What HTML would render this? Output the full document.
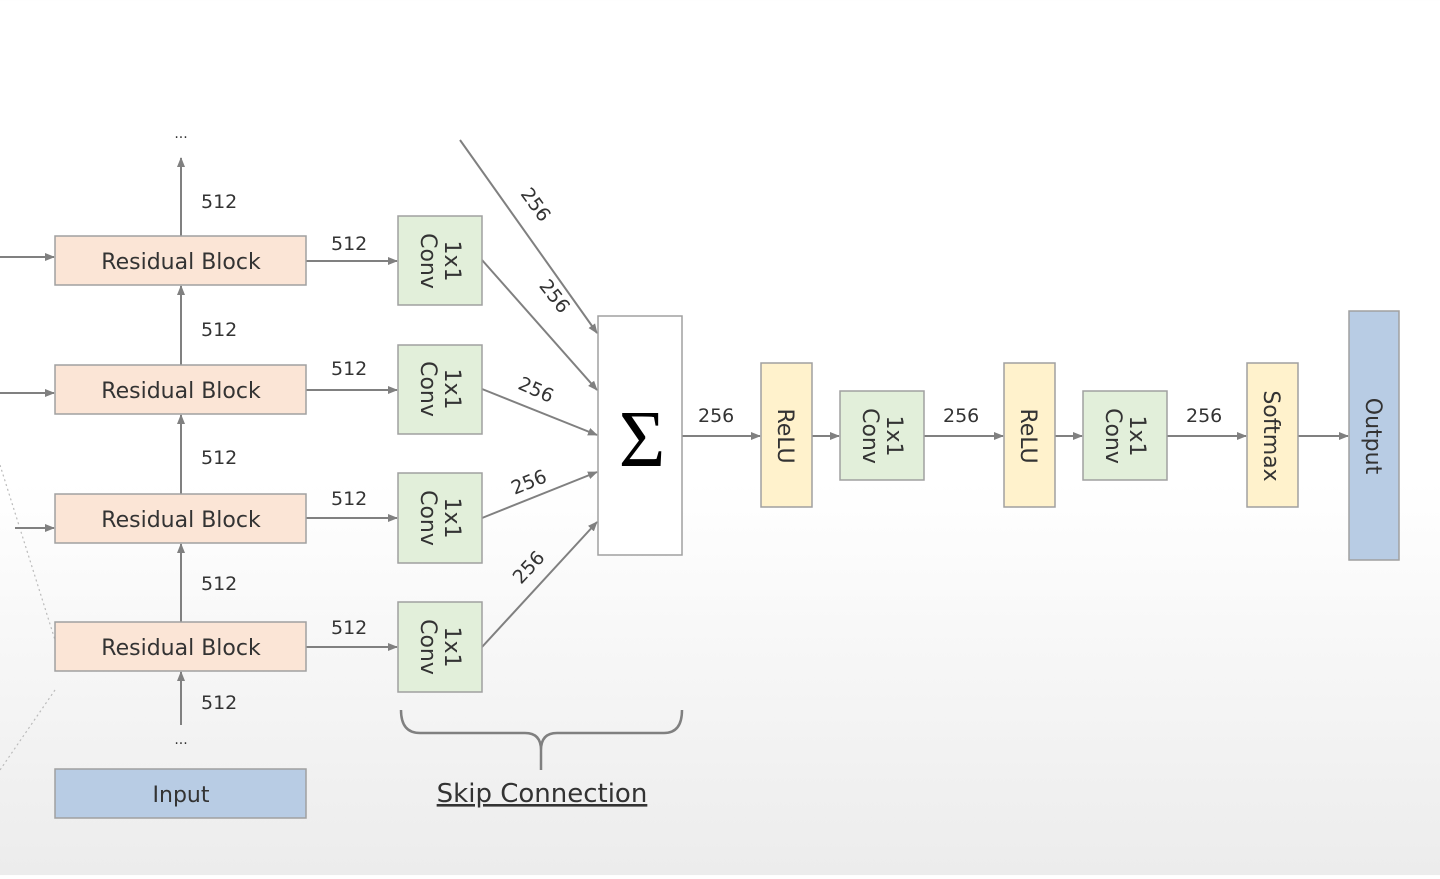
<!DOCTYPE html>
<html><head><style>
html,body{margin:0;padding:0}
body{width:1440px;height:875px;background:linear-gradient(to bottom,#ffffff 0%,#ffffff 55%,#ececec 100%);font-family:"DejaVu Sans","Liberation Sans",sans-serif;overflow:hidden}
svg text{font-family:"DejaVu Sans","Liberation Sans",sans-serif;fill:#333}
</style></head><body>
<svg width="1440" height="875" viewBox="0 0 1440 875" xmlns="http://www.w3.org/2000/svg">
<defs>
<marker id="a" markerWidth="10" markerHeight="10" refX="9" refY="5" orient="auto" markerUnits="userSpaceOnUse"><path d="M0,1 L10,5 L0,9 z" fill="#808080"/></marker>
</defs>
<g stroke="#bbb" stroke-width="1.2" stroke-dasharray="2,3" fill="none">
<line x1="0" y1="465" x2="55" y2="640"/>
<line x1="55" y1="690" x2="0" y2="770"/>
</g>
<g stroke="#808080" stroke-width="2" fill="none" marker-end="url(#a)">
<line x1="0" y1="257" x2="54" y2="257"/>
<line x1="0" y1="393" x2="54" y2="393"/>
<line x1="15" y1="528" x2="54" y2="528"/>
<line x1="181" y1="236" x2="181" y2="158"/>
<line x1="181" y1="365" x2="181" y2="286"/>
<line x1="181" y1="494" x2="181" y2="415"/>
<line x1="181" y1="622" x2="181" y2="544"/>
<line x1="181" y1="725" x2="181" y2="672"/>
<line x1="306" y1="261" x2="397" y2="261"/>
<line x1="306" y1="390" x2="397" y2="390"/>
<line x1="306" y1="518" x2="397" y2="518"/>
<line x1="306" y1="647" x2="397" y2="647"/>
<line x1="460" y1="140" x2="597" y2="333"/>
<line x1="482" y1="260" x2="597" y2="390"/>
<line x1="482" y1="389" x2="597" y2="435"/>
<line x1="482" y1="518" x2="597" y2="472"/>
<line x1="482" y1="647" x2="597" y2="522"/>
<line x1="682" y1="436" x2="760" y2="436"/>
<line x1="812" y1="436" x2="839" y2="436"/>
<line x1="924" y1="436" x2="1003" y2="436"/>
<line x1="1055" y1="436" x2="1082" y2="436"/>
<line x1="1167" y1="436" x2="1246" y2="436"/>
<line x1="1298" y1="436" x2="1348" y2="436"/>
</g>
<g stroke="#a0a0a0" stroke-width="1.5">
<rect x="55" y="236" width="251" height="49" fill="#fbe5d6"/>
<rect x="55" y="365" width="251" height="49" fill="#fbe5d6"/>
<rect x="55" y="494" width="251" height="49" fill="#fbe5d6"/>
<rect x="55" y="622" width="251" height="49" fill="#fbe5d6"/>
<rect x="55" y="769" width="251" height="49" fill="#b8cce4"/>
<rect x="398" y="216" width="84" height="89" fill="#e2efda"/>
<rect x="398" y="345" width="84" height="89" fill="#e2efda"/>
<rect x="398" y="473" width="84" height="90" fill="#e2efda"/>
<rect x="398" y="602" width="84" height="90" fill="#e2efda"/>
<rect x="598" y="316" width="84" height="239" fill="#ffffff"/>
<rect x="761" y="363" width="51" height="144" fill="#fff2cc"/>
<rect x="840" y="391" width="84" height="89" fill="#e2efda"/>
<rect x="1004" y="363" width="51" height="144" fill="#fff2cc"/>
<rect x="1083" y="391" width="84" height="89" fill="#e2efda"/>
<rect x="1247" y="363" width="51" height="144" fill="#fff2cc"/>
<rect x="1349" y="311" width="50" height="249" fill="#b8cce4"/>
</g>
<path d="M401,710 Q401,733 420,733 L525,733 Q541,733 541,750 L541,770 M541,750 Q541,733 557,733 L664,733 Q682,733 682,710" stroke="#808080" stroke-width="2.5" fill="none"/>
<g font-size="22" text-anchor="middle">
<text x="181" y="269">Residual Block</text>
<text x="181" y="398">Residual Block</text>
<text x="181" y="527">Residual Block</text>
<text x="181" y="655">Residual Block</text>
<text x="181" y="802">Input</text>
</g>
<g font-size="19">
<text x="201" y="208">512</text>
<text x="201" y="336">512</text>
<text x="201" y="464">512</text>
<text x="201" y="590">512</text>
<text x="201" y="709">512</text>
<text x="331" y="250">512</text>
<text x="331" y="375">512</text>
<text x="331" y="505">512</text>
<text x="331" y="634">512</text>
<text x="698" y="422">256</text>
<text x="943" y="422">256</text>
<text x="1186" y="422">256</text>
<text x="510" y="203" transform="rotate(54 524 208)">256</text>
<text x="529" y="295" transform="rotate(52 543 300)">256</text>
<text x="518" y="397" transform="rotate(24 538 390)">256</text>
<text x="510" y="488" transform="rotate(-22 530 480)">256</text>
<text x="508" y="575" transform="rotate(-47 526 565)">256</text>
</g>
<text x="181" y="138" font-size="14" text-anchor="middle">...</text>
<text x="181" y="744" font-size="14" text-anchor="middle">...</text>
<text x="642" y="466" font-size="80" text-anchor="middle" style="fill:#000;font-family:'Liberation Serif',serif">Σ</text>
<g font-size="22" text-anchor="middle">
<g transform="translate(440,261) rotate(90)"><text x="0" y="-5">1x1</text><text x="0" y="19">Conv</text></g>
<g transform="translate(440,389) rotate(90)"><text x="0" y="-5">1x1</text><text x="0" y="19">Conv</text></g>
<g transform="translate(440,518) rotate(90)"><text x="0" y="-5">1x1</text><text x="0" y="19">Conv</text></g>
<g transform="translate(440,647) rotate(90)"><text x="0" y="-5">1x1</text><text x="0" y="19">Conv</text></g>
<g transform="translate(882,436) rotate(90)"><text x="0" y="-5">1x1</text><text x="0" y="19">Conv</text></g>
<g transform="translate(1125,436) rotate(90)"><text x="0" y="-5">1x1</text><text x="0" y="19">Conv</text></g>
<g transform="translate(786,436) rotate(90)"><text x="0" y="8">ReLU</text></g>
<g transform="translate(1029,436) rotate(90)"><text x="0" y="8">ReLU</text></g>
<g transform="translate(1272,436) rotate(90)"><text x="0" y="8">Softmax</text></g>
<g transform="translate(1374,436) rotate(90)"><text x="0" y="8">Output</text></g>
</g>
<text x="542" y="802" font-size="26" text-anchor="middle" text-decoration="underline">Skip Connection</text>
</svg>
</body></html>
